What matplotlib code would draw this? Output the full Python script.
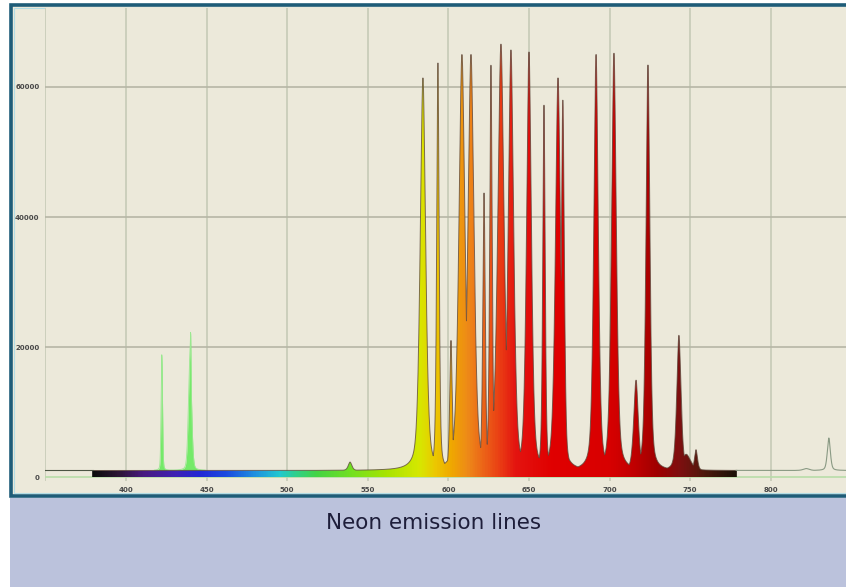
import numpy as np
import matplotlib
matplotlib.use("Agg")
import matplotlib.pyplot as plt
from matplotlib.colors import LinearSegmentedColormap
from matplotlib.patches import Rectangle, Polygon

# ---- spectrum data (wavelength axis in nm, intensity in counts) ----
peak_nm = [539.0, 575.0, 584.2, 593.5, 601.6, 608.4, 614.0, 622.1, 626.4,
           632.6, 638.8, 650.0, 659.3, 668.0, 671.0, 691.6, 702.7, 716.4,
           723.8, 743.0, 747.5, 753.6, 822.0, 836.0]
peak_counts = [2300, 2000, 61400, 63700, 21000, 65000, 65000, 43700, 63400,
               66600, 65700, 65400, 57200, 61400, 58000, 65000, 65200, 14900,
               63400, 21800, 3500, 4200, 1300, 6000]
peak_width = [1.2, 1.5, 1.8, 0.8, 0.8, 2.0, 2.0, 0.8, 0.8,
              2.1, 1.8, 1.6, 0.8, 1.7, 1.0, 1.5, 1.6, 1.5,
              1.3, 1.4, 3.0, 1.0, 2.0, 1.0]

green_nm = [422.2, 439.7, 440.1]
green_counts = [17800, 17600, 5200]
green_width = [0.45, 1.0, 0.18]

baseline_counts = 1000
colored_range = (379.0, 779.0)

x_ticks = [350, 400, 450, 500, 550, 600, 650, 700, 750, 800]
x_tick_labels = ["", "400", "450", "500", "550", "600", "650", "700", "750", "800"]
y_ticks = [0, 20000, 40000, 60000]
y_tick_labels = ["0", "20000", "40000", "60000"]

# colour of the filled spectrum along the wavelength axis
color_nm = [379, 395, 410, 430, 445, 462, 480, 495, 505, 518, 540, 562,
            582, 592, 602, 612, 622, 632, 642, 665, 700, 716, 730, 745, 760, 779]
color_hex = ["#0c0c0c", "#2c1636", "#481a80", "#3e22b4", "#2228d6", "#1a4ce0",
             "#1e92e0", "#20c8d0", "#2fd08c", "#44d444", "#74e020", "#a8e400",
             "#d6e800", "#ecc800", "#f0a800", "#ee8a18", "#ec6418", "#ea3e14",
             "#e41410", "#e00000", "#d80000", "#c00000", "#a00000", "#7c1010",
             "#4c1a0c", "#1c1208"]

W, H = 846, 587
BEIGE = "#ece9da"


def line_shape(x, c, h, w, eta):
    d = (x - c) / w
    return h * (eta / (1.0 + d * d) + (1 - eta) * np.exp(-0.5 * d * d))


def fx(px):
    return px / W


def fy(py):
    return 1 - py / H


fig = plt.figure(figsize=(W / 100, H / 100), dpi=100, facecolor="white")

# framed panel and caption band
fig.add_artist(Rectangle((fx(11), fy(496)), fx(846 - 11 + 10), 491 / H,
                         transform=fig.transFigure, facecolor=BEIGE,
                         edgecolor="#1e5c78", lw=2.6, zorder=-3))
fig.add_artist(Rectangle((fx(14), fy(493)), fx(846 - 14 + 10), 485 / H,
                         transform=fig.transFigure, facecolor="none",
                         edgecolor="#b2dce4", lw=0.8, zorder=-2))
fig.add_artist(Rectangle((fx(10), 0), fx(846 - 10), fy(498),
                         transform=fig.transFigure, facecolor="#bbc2dc",
                         edgecolor="none", zorder=-3))
fig.text(fx(434), fy(523), "Neon emission lines", ha="center", va="center",
         fontsize=15.5, color="#1e1e3a")

ax = fig.add_axes([fx(45), fy(481), fx(846 - 45), (481 - 8) / H])
ax.set_facecolor(BEIGE)
x_lo = 400 + (45 - 126) / 1.612
x_hi = 400 + (846 - 126) / 1.612
y_lo = -(481 - 477) / 6.5 * 1000
y_hi = (477 - 8) / 6.5 * 1000
ax.set_xlim(x_lo, x_hi)
ax.set_ylim(y_lo, y_hi)
for s in ax.spines.values():
    s.set_visible(False)

ax.set_xticks(x_ticks)
ax.set_xticklabels(x_tick_labels)
ax.set_yticks(y_ticks)
ax.set_yticklabels(y_tick_labels)
ax.tick_params(length=0, labelsize=5, labelcolor="#484848", pad=4)
for t in ax.get_xticklabels() + ax.get_yticklabels():
    t.set_fontweight("bold")

for xv in x_ticks:
    ax.axvline(xv, color="#c6cab6", lw=1.2, zorder=0)
for yv in y_ticks[1:]:
    ax.axhline(yv, color="#b6b6a6", lw=1.2, zorder=0)
ax.axhline(0, color="#b8dca8", lw=1.2, zorder=0.5)

x = np.linspace(x_lo, x_hi, 8000)
shapes = [line_shape(x, c, h - baseline_counts, w, 0.5)
          for c, h, w in zip(peak_nm, peak_counts, peak_width)]
spec = baseline_counts + np.maximum.reduce(shapes)

# gradient-coloured fill clipped to the spectrum shape
m = (x >= colored_range[0]) & (x <= colored_range[1])
xm, ym = x[m], spec[m]
verts = np.column_stack([np.r_[xm, xm[::-1]], np.r_[ym, np.zeros_like(ym)]])
clip = Polygon(verts, closed=True, facecolor="none", edgecolor="none",
               transform=ax.transData)
ax.add_patch(clip)

nodes = [(v - colored_range[0]) / (colored_range[1] - colored_range[0]) for v in color_nm]
cmap = LinearSegmentedColormap.from_list("spec", list(zip(nodes, color_hex)))
grad = np.linspace(0, 1, 1200)[None, :]
im = ax.imshow(grad, extent=[colored_range[0], colored_range[1], 0, y_hi],
               aspect="auto", cmap=cmap, origin="lower", zorder=2,
               interpolation="bilinear")
im.set_clip_path(clip)

# green lines
g = sum(line_shape(x, c, h, w, 0.3)
        for c, h, w in zip(green_nm, green_counts, green_width))
gm = g > 60
ax.fill_between(x, baseline_counts, baseline_counts + g, where=gm,
                color="#74ea68", lw=0, zorder=1.5)
ax.plot(x[gm], baseline_counts + g[gm], color="#9ae890", lw=0.6, zorder=1.6)

# spectrum outline
ax.plot(x[m], spec[m], color="#5a4438", lw=0.7, alpha=0.75, zorder=3)
ax.plot(x[x < colored_range[0] + 0.5], spec[x < colored_range[0] + 0.5],
        color="#4c5444", lw=0.8, zorder=3)
ax.plot(x[x > colored_range[1] - 0.5], spec[x > colored_range[1] - 0.5],
        color="#8a9a84", lw=0.8, zorder=3)

fig.savefig("out.png", dpi=100, facecolor="white")
